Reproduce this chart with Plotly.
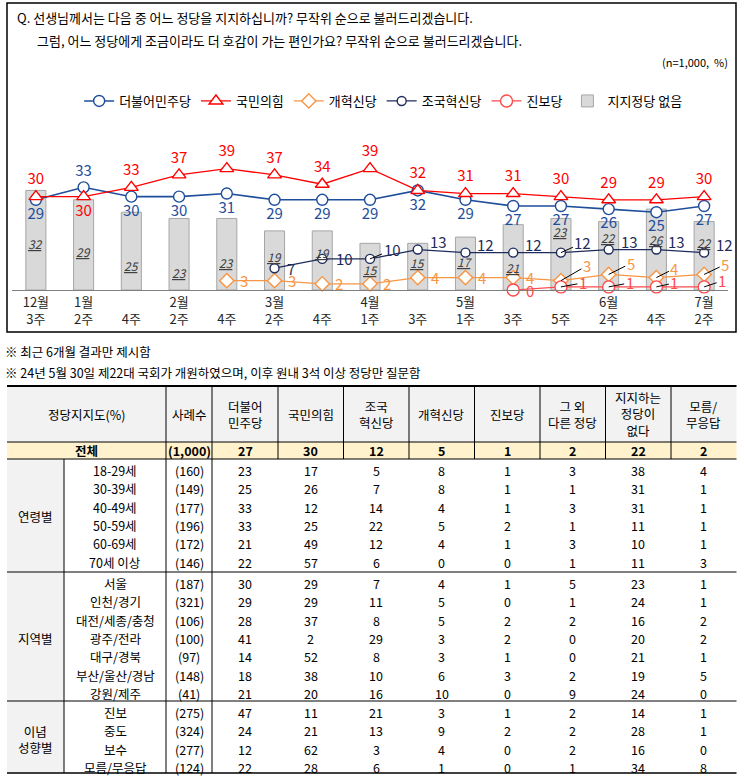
import plotly.graph_objects as go

W, H = 744, 783
FONT = "Noto Sans CJK KR"


def px(x):
    return x / W


def py(y):
    return 1 - y / H


# ---------------- chart data ----------------
periods = ["12월 3주", "1월 2주", "1월 4주", "2월 2주", "2월 4주", "3월 2주", "3월 4주",
           "4월 1주", "4월 3주", "5월 1주", "5월 3주", "5월 5주", "6월 2주", "6월 4주", "7월 2주"]
tick_labels = ["12월<br>3주", "1월<br>2주", " <br>4주", "2월<br>2주", " <br>4주", "3월<br>2주", " <br>4주",
               "4월<br>1주", " <br>3주", "5월<br>1주", " <br>3주", " <br>5주", "6월<br>2주", " <br>4주", "7월<br>2주"]

minju = [29, 33, 30, 30, 31, 29, 29, 29, 32, 29, 27, 27, 26, 25, 27]
ppp = [30, 30, 33, 37, 39, 37, 34, 39, 32, 31, 31, 30, 29, 29, 30]
reform = [None, None, None, None, 3, 3, 2, 2, 4, 4, 4, 3, 5, 4, 5]
cho = [None, None, None, None, None, 7, 10, 10, 13, 12, 12, 12, 13, 13, 12]
jinbo = [None, None, None, None, None, None, None, None, None, None, 0, 1, 1, 1, 1]
no_party = [32, 29, 25, 23, 23, 19, 19, 15, 15, 17, 21, 23, 22, 26, 22]

# ---------------- table data ----------------
table_headers = ["사례수", "더불어<br>민주당", "국민의힘", "조국<br>혁신당", "개혁신당", "진보당",
                 "그 외<br>다른 정당", "지지하는<br>정당이<br>없다", "모름/<br>무응답"]
total_n = "1,000"
total_vals = [27, 30, 12, 5, 1, 2, 22, 2]

age_labels = ["18-29세", "30-39세", "40-49세", "50-59세", "60-69세", "70세 이상"]
age_n = [160, 149, 177, 196, 172, 146]
age_vals = [
    [23, 17, 5, 8, 1, 3, 38, 4],
    [25, 26, 7, 8, 1, 1, 31, 1],
    [33, 12, 14, 4, 1, 3, 31, 1],
    [33, 25, 22, 5, 2, 1, 11, 1],
    [21, 49, 12, 4, 1, 3, 10, 1],
    [22, 57, 6, 0, 0, 1, 11, 3],
]
region_labels = ["서울", "인천/경기", "대전/세종/충청", "광주/전라", "대구/경북", "부산/울산/경남", "강원/제주"]
region_n = [187, 321, 106, 100, 97, 148, 41]
region_vals = [
    [30, 29, 7, 4, 1, 5, 23, 1],
    [29, 29, 11, 5, 0, 1, 24, 1],
    [28, 37, 8, 5, 2, 2, 16, 2],
    [41, 2, 29, 3, 2, 0, 20, 2],
    [14, 52, 8, 3, 1, 0, 21, 1],
    [18, 38, 10, 6, 3, 2, 19, 5],
    [21, 20, 16, 10, 0, 9, 24, 0],
]
ideo_labels = ["진보", "중도", "보수", "모름/무응답"]
ideo_n = [275, 324, 277, 124]
ideo_vals = [
    [47, 11, 21, 3, 1, 2, 14, 1],
    [24, 21, 13, 9, 2, 2, 28, 1],
    [12, 62, 3, 4, 0, 2, 16, 0],
    [22, 28, 6, 1, 0, 1, 34, 8],
]

# ---------------- styles ----------------
C_MINJU = "#1F4E9B"
C_PPP = "#FF0000"
C_REFORM = "#F79646"
C_CHO = "#1F2D5C"
C_JINBO = "#FF4B4B"
LBL = 15

fig = go.Figure()

fig.add_trace(go.Bar(
    x=periods, y=no_party, name="지지정당 없음", width=0.42,
    marker=dict(color="#D9D9D9", line=dict(color="#A6A6A6", width=1)),
    legendrank=6, hoverinfo="skip"))

minju_pos = ["bottom center"] * 15
minju_pos[1] = "top center"
ppp_pos = ["top center"] * 15
ppp_pos[1] = "bottom center"

# side-labelled series: default label offset (px) and leader-line label offsets
side_style = {
    "개혁신당": dict(default=(11, 0), leaders={11: (26, -15), 12: (22, -11), 13: (18, -9), 14: (21, -10)}),
    "조국혁신당": dict(default=(10, 8), special={5: (10, 0), 6: (12, 0)},
                  leaders={7: (22, -9), 11: (22, -10)}),
    "진보당": dict(default=(11, 0), leaders={11: (22, -4), 12: (21, -4), 13: (18, -4), 14: (18, -6)}),
}

series = [
    ("더불어민주당", minju, C_MINJU, "circle", 11, 1.6, 1),
    ("국민의힘", ppp, C_PPP, "triangle-up", 12, 1.3, 2),
    ("개혁신당", reform, C_REFORM, "diamond", 11, 1.3, 3),
    ("조국혁신당", cho, C_CHO, "circle", 9, 1.3, 4),
    ("진보당", jinbo, C_JINBO, "circle", 12, 1.2, 5),
]

for name, vals, col, sym, size, lw, rank in series:
    if name in ("더불어민주당", "국민의힘"):
        mode = "lines+markers+text"
        extra = dict(text=[str(v) for v in vals],
                     textposition=minju_pos if name == "더불어민주당" else ppp_pos,
                     textfont=dict(color=col, size=LBL, family=FONT))
    else:
        mode = "lines+markers"
        extra = {}
    fig.add_trace(go.Scatter(
        x=periods, y=vals, name=name, mode=mode,
        line=dict(color=col, width=lw),
        marker=dict(symbol=sym, size=size, color="white", line=dict(color=col, width=1.4)),
        cliponaxis=False, legendrank=rank, hoverinfo="skip", **extra))
    if name in side_style:
        st = side_style[name]
        for i, v in enumerate(vals):
            if v is None:
                continue
            if i in st["leaders"]:
                dx, dy = st["leaders"][i]
                fig.add_annotation(
                    x=periods[i], y=v, xref="x", yref="y", text=str(v),
                    showarrow=True, arrowhead=0, arrowwidth=1, arrowcolor="#000000",
                    ax=dx, ay=dy, standoff=0,
                    font=dict(color=col, size=LBL, family=FONT))
            else:
                dx, dy = st.get("special", {}).get(i, st["default"])
                fig.add_annotation(
                    x=periods[i], y=v, xref="x", yref="y", text=str(v), showarrow=False,
                    xanchor="left", yanchor="middle", xshift=dx, yshift=dy,
                    font=dict(color=col, size=LBL, family=FONT))

# bar value labels (italic, underlined)
bar_label_frac = [0.47, 0.43, 0.31, 0.24, 0.38, 0.57, 0.63, 0.43, 0.59, 0.54, 0.35, 0.82, 0.77, 0.63, 0.70]
for i, v in enumerate(no_party):
    fig.add_annotation(
        x=periods[i], y=v * bar_label_frac[i], xref="x", yref="y",
        text=f"<span style='text-decoration:underline'><i>{v}</i></span>",
        showarrow=False, font=dict(color="#404040", size=12, family=FONT))

# ---------------- chart frame and texts ----------------
shapes = [dict(type="rect", xref="paper", yref="paper", x0=px(7), x1=px(736), y0=py(332), y1=py(3),
               line=dict(color="#000000", width=1.5), fillcolor="rgba(0,0,0,0)", layer="below")]

ann_text = [
    ("Q. 선생님께서는 다음 중 어느 정당을 지지하십니까? 무작위 순으로 불러드리겠습니다.", 15, 18, "left", 13),
    ("그럼, 어느 정당에게 조금이라도 더 호감이 가는 편인가요? 무작위 순으로 불러드리겠습니다.", 35, 40, "left", 13),
    ("(n=1,000,  %)", 730, 62, "right", 11),
    ("※ 최근 6개월 결과만 제시함", 3, 352, "left", 12.5),
    ("※ 24년 5월 30일 제22대 국회가 개원하였으며, 이후 원내 3석 이상 정당만 질문함", 3, 373, "left", 12.5),
]
for t, x, y, anc, sz in ann_text:
    fig.add_annotation(x=px(x), y=py(y), xref="paper", yref="paper", text=t, showarrow=False,
                       xanchor=anc, yanchor="middle", font=dict(size=sz, color="#000000", family=FONT))

# ---------------- table ----------------
col_x = [7, 64, 166, 212, 278, 343.5, 409, 474.5, 540, 605.5, 671, 736.5]
TOP, HEAD_B, TOT_B = 386, 442, 459
ROW_H = 18.3
groups = [
    ("연령별", age_labels, age_n, age_vals, 459, 572),
    ("지역별", region_labels, region_n, region_vals, 572, 701),
    ("이념<br>성향별", ideo_labels, ideo_n, ideo_vals, 701, 773),
]


def rect(x0, y0, x1, y1, fill):
    shapes.append(dict(type="rect", xref="paper", yref="paper", x0=px(x0), x1=px(x1), y0=py(y1), y1=py(y0),
                       line=dict(width=0), fillcolor=fill, layer="below"))


def hline(y, x0, x1, w=1):
    shapes.append(dict(type="line", xref="paper", yref="paper", x0=px(x0), x1=px(x1), y0=py(y), y1=py(y),
                       line=dict(color="#000000", width=w)))


def vline(x, y0, y1, w=1):
    shapes.append(dict(type="line", xref="paper", yref="paper", x0=px(x), x1=px(x), y0=py(y0), y1=py(y1),
                       line=dict(color="#000000", width=w)))


def cell(text, xc, yc, bold=False, size=12.5):
    fig.add_annotation(x=px(xc), y=py(yc), xref="paper", yref="paper",
                       text=f"<b>{text}</b>" if bold else text, showarrow=False,
                       xanchor="center", yanchor="middle",
                       font=dict(size=size, color="#000000", family=FONT))


rect(col_x[0], TOP, col_x[-1], HEAD_B, "#F2F2F2")
rect(col_x[0], HEAD_B, col_x[-1], TOT_B, "#FFF2CC")
rect(col_x[0], TOT_B, col_x[1], 773, "#F2F2F2")

hline(TOP, col_x[0], col_x[-1], 2)
hline(HEAD_B, col_x[0], col_x[-1], 1)
hline(TOT_B, col_x[0], col_x[-1], 1)
for g in groups[1:]:
    hline(g[4], col_x[0], col_x[-1], 1)
hline(773, col_x[0], col_x[-1], 1.5)
for x in col_x[2:-1]:
    vline(x, TOP, TOT_B)
for x in col_x[1:4]:
    vline(x, TOT_B, 773)

centers = [(col_x[i] + col_x[i + 1]) / 2 for i in range(len(col_x) - 1)]
head_y = (TOP + HEAD_B) / 2
tot_y = (HEAD_B + TOT_B) / 2
cell("정당지지도(%)", (col_x[0] + col_x[2]) / 2, head_y)
for j, h in enumerate(table_headers):
    cell(h, centers[j + 2], head_y)
cell("전체", (col_x[0] + col_x[2]) / 2, tot_y, bold=True)
cell(f"({total_n})", centers[2], tot_y, bold=True)
for j, v in enumerate(total_vals):
    cell(str(v), centers[j + 3], tot_y, bold=True)

for gname, labels, ns, vals, gy0, gy1 in groups:
    first = gy0 + 11.5
    ys = [first + k * ROW_H for k in range(len(labels))]
    cell(gname, centers[0], (ys[0] + ys[-1]) / 2)
    for k, lab in enumerate(labels):
        cell(lab, centers[1], ys[k])
        cell(f"({ns[k]})", centers[2], ys[k])
        for j, v in enumerate(vals[k]):
            cell(str(v), centers[j + 3], ys[k])

fig.update_layout(
    width=W, height=H, margin=dict(l=0, r=0, t=0, b=0),
    paper_bgcolor="white", plot_bgcolor="white",
    font=dict(family=FONT, color="#000000"),
    shapes=shapes, bargap=0.5,
    showlegend=True,
    legend=dict(orientation="h", x=0.515, xanchor="center", y=py(101), yanchor="middle",
                font=dict(size=13, family=FONT), itemwidth=30, bgcolor="rgba(0,0,0,0)",
                traceorder="normal"),
    xaxis=dict(domain=[px(12), px(728)], type="category", tickvals=periods, ticktext=tick_labels,
               range=[-0.5, len(periods) - 0.5], autorange=False,
               showline=True, linecolor="#808080", linewidth=1, ticks="", showgrid=False, zeroline=False,
               tickfont=dict(size=13, color="#262626", family=FONT), fixedrange=True),
    yaxis=dict(domain=[py(290), py(150)], range=[0, 45], visible=False, fixedrange=True),
)

fig.write_html("out.html", config={"displayModeBar": False},
               post_script="document.body.style.margin='0';document.body.style.overflow='hidden';")
